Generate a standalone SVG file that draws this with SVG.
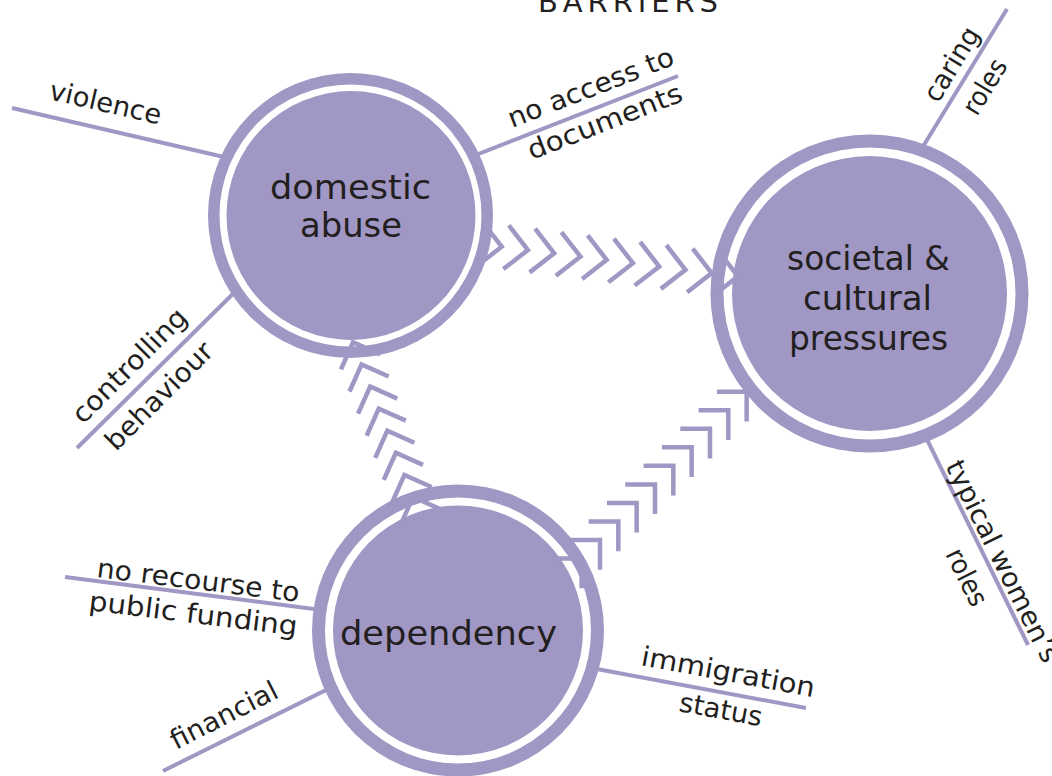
<svg xmlns="http://www.w3.org/2000/svg" width="1052" height="776" viewBox="0 0 1052 776">
<defs>
<style>
.spoke{stroke:#a097c4;stroke-width:4;fill:none}
.chev{stroke:#a097c4;stroke-width:4.5;fill:none;stroke-linejoin:miter;stroke-miterlimit:10}
.ring{fill:#a097c4}
.gap{fill:#ffffff}
.core{fill:#a097c4}
.nt{font-family:"DejaVu Sans",Inter,sans-serif;font-size:34px;fill:#231f20;text-anchor:middle}
.lt{font-family:"DejaVu Sans",Inter,sans-serif;font-size:27px;fill:#231f20}
.title{font-family:"DejaVu Sans",Inter,sans-serif;font-size:29px;fill:#231f20}
</style>
<path id="chA" d="M-22,-22 L0,0 L-22,22"/>
<path id="ch" d="M-21,-21 L0,0 L-21,21"/>
</defs>
<rect width="1052" height="776" fill="#ffffff"/>

<text class="title" x="538" y="12" textLength="180" lengthAdjust="spacing">BARRIERS</text>

<g id="spokes">
<line class="spoke" x1="12" y1="108" x2="250" y2="163"/>
<line class="spoke" x1="678" y1="76" x2="440" y2="169"/>
<line class="spoke" x1="77" y1="448" x2="250" y2="277"/>
<line class="spoke" x1="1007" y1="9" x2="905" y2="176"/>
<line class="spoke" x1="1028" y1="645" x2="912" y2="409"/>
<line class="spoke" x1="65" y1="577" x2="345" y2="613"/>
<line class="spoke" x1="163" y1="771" x2="355" y2="675.6"/>
<line class="spoke" x1="806" y1="708" x2="570" y2="664"/>
</g>

<g id="node-domestic-abuse">
<circle class="ring" cx="350.5" cy="215.5" r="142.5"/>
<circle class="gap" cx="350.5" cy="215.5" r="131"/>
<circle class="core" cx="351" cy="215.5" r="124.5"/>
<text class="nt" x="350.5" y="199" textLength="161" lengthAdjust="spacingAndGlyphs">domestic</text>
<text class="nt" x="351" y="237" textLength="102" lengthAdjust="spacingAndGlyphs">abuse</text>
</g>

<g id="node-societal">
<circle class="ring" cx="869.5" cy="293.5" r="159"/>
<circle class="gap" cx="869.5" cy="293.5" r="146"/>
<circle class="core" cx="869.5" cy="293.5" r="137.5"/>
<text class="nt" x="868.5" y="270" textLength="163" lengthAdjust="spacingAndGlyphs">societal &amp;</text>
<text class="nt" x="867.5" y="310" textLength="129" lengthAdjust="spacingAndGlyphs">cultural</text>
<text class="nt" x="868.5" y="350" textLength="159" lengthAdjust="spacingAndGlyphs">pressures</text>
</g>

<g id="node-dependency">
<circle class="ring" cx="458" cy="630.5" r="146"/>
<circle class="gap" cx="458" cy="630.5" r="133"/>
<circle class="core" cx="458" cy="630.5" r="125"/>
<text class="nt" x="448.5" y="645" textLength="217" lengthAdjust="spacingAndGlyphs">dependency</text>
</g>

<g id="connectors">
<g id="abuse-to-societal">
<use href="#chA" class="chev" transform="translate(501.7,246.7) rotate(7.2)"/>
<use href="#chA" class="chev" transform="translate(527.95,250) rotate(7.2)"/>
<use href="#chA" class="chev" transform="translate(554.2,253.3) rotate(7.2)"/>
<use href="#chA" class="chev" transform="translate(580.45,256.6) rotate(7.2)"/>
<use href="#chA" class="chev" transform="translate(606.7,259.9) rotate(7.2)"/>
<use href="#chA" class="chev" transform="translate(632.95,263.2) rotate(7.2)"/>
<use href="#chA" class="chev" transform="translate(659.2,266.5) rotate(7.2)"/>
<use href="#chA" class="chev" transform="translate(685.45,269.8) rotate(7.2)"/>
<use href="#chA" class="chev" transform="translate(711.7,273.1) rotate(7.2)"/>
<use href="#chA" class="chev" transform="translate(737.95,276.4) rotate(7.2)"/>
</g>
<g id="dependency-to-abuse">
<use href="#ch" class="chev" transform="translate(413,497) rotate(-111)"/>
<use href="#ch" class="chev" transform="translate(404.43,474.9) rotate(-111)"/>
<use href="#ch" class="chev" transform="translate(395.86,452.8) rotate(-111)"/>
<use href="#ch" class="chev" transform="translate(387.29,430.7) rotate(-111)"/>
<use href="#ch" class="chev" transform="translate(378.72,408.6) rotate(-111)"/>
<use href="#ch" class="chev" transform="translate(370.15,386.5) rotate(-111)"/>
<use href="#ch" class="chev" transform="translate(361.58,364.4) rotate(-111)"/>
<use href="#ch" class="chev" transform="translate(353.01,342.3) rotate(-111)"/>
</g>
<g id="dependency-to-societal">
<use href="#ch" class="chev" transform="translate(581.67,558.54) rotate(-45)"/>
<use href="#ch" class="chev" transform="translate(600,540) rotate(-45)"/>
<use href="#ch" class="chev" transform="translate(618.33,521.46) rotate(-45)"/>
<use href="#ch" class="chev" transform="translate(636.66,502.92) rotate(-45)"/>
<use href="#ch" class="chev" transform="translate(654.99,484.38) rotate(-45)"/>
<use href="#ch" class="chev" transform="translate(673.32,465.84) rotate(-45)"/>
<use href="#ch" class="chev" transform="translate(691.65,447.3) rotate(-45)"/>
<use href="#ch" class="chev" transform="translate(709.98,428.76) rotate(-45)"/>
<use href="#ch" class="chev" transform="translate(728.31,410.22) rotate(-45)"/>
<use href="#ch" class="chev" transform="translate(746.64,391.68) rotate(-45)"/>
</g>
</g>

<g id="labels">
<text class="lt" transform="translate(48,99) rotate(12.9)" textLength="114" lengthAdjust="spacingAndGlyphs">violence</text>
<text class="lt" transform="translate(512,128) rotate(-21.3)" textLength="176" lengthAdjust="spacingAndGlyphs">no access to</text>
<text class="lt" transform="translate(531.7,160) rotate(-21.3)" textLength="164" lengthAdjust="spacingAndGlyphs">documents</text>
<text class="lt" transform="translate(83,425) rotate(-45)" textLength="150" lengthAdjust="spacingAndGlyphs">controlling</text>
<text class="lt" transform="translate(116,452) rotate(-45)" textLength="140" lengthAdjust="spacingAndGlyphs">behaviour</text>
<text class="lt" transform="translate(938,104) rotate(-58.6)" textLength="82" lengthAdjust="spacingAndGlyphs">caring</text>
<text class="lt" transform="translate(977,117) rotate(-58.6)" textLength="60" lengthAdjust="spacingAndGlyphs">roles</text>
<text class="lt" transform="translate(945,466) rotate(63.6)" textLength="222" lengthAdjust="spacingAndGlyphs">typical women’s</text>
<text class="lt" transform="translate(945,554) rotate(63.6)" textLength="61" lengthAdjust="spacingAndGlyphs">roles</text>
<text class="lt" transform="translate(96,577) rotate(7)" textLength="204" lengthAdjust="spacingAndGlyphs">no recourse to</text>
<text class="lt" transform="translate(88,610) rotate(7)" textLength="210" lengthAdjust="spacingAndGlyphs">public funding</text>
<text class="lt" transform="translate(176,750) rotate(-27)" textLength="117" lengthAdjust="spacingAndGlyphs">financial</text>
<text class="lt" transform="translate(640,665) rotate(10.5)" textLength="176" lengthAdjust="spacingAndGlyphs">immigration</text>
<text class="lt" transform="translate(678,711) rotate(10.5)" textLength="84" lengthAdjust="spacingAndGlyphs">status</text>
</g>
</svg>
